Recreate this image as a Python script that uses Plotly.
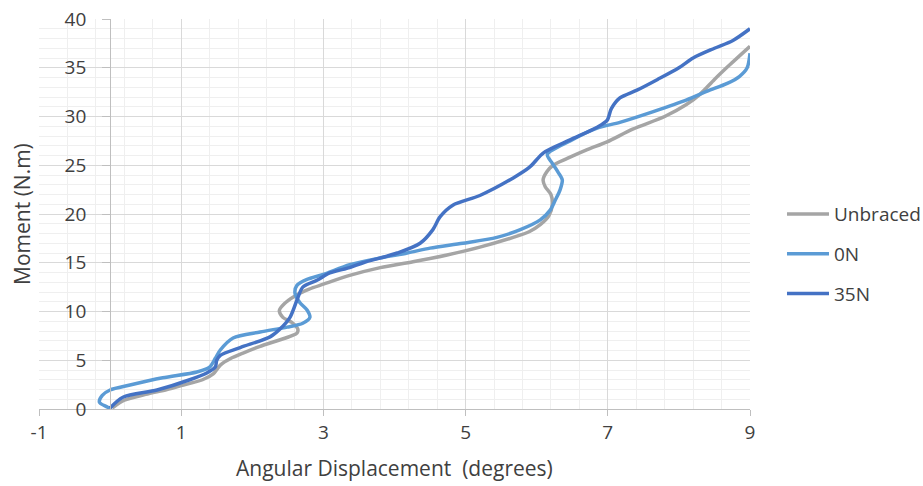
import plotly.graph_objects as go

# Moment vs angular displacement for three bracing conditions
unbraced_x = [0.03, 0.2, 0.5, 0.8, 1.0, 1.3, 1.45, 1.55, 1.7, 1.87, 2.1, 2.35, 2.55, 2.63,
              2.64, 2.55, 2.43, 2.38, 2.45, 2.6, 2.8, 3.0, 3.37, 3.8, 4.26, 4.74, 5.2, 5.67,
              5.9, 6.05, 6.17, 6.22, 6.2, 6.12, 6.09, 6.14, 6.23, 6.43, 6.71, 6.99, 7.35,
              7.8, 8.1, 8.3, 8.5, 8.7, 9.0]
unbraced_y = [0.1, 0.9, 1.5, 2.0, 2.4, 3.0, 3.6, 4.5, 5.2, 5.74, 6.4, 7.0, 7.5, 7.8,
              8.2, 8.9, 9.4, 10.1, 10.8, 11.6, 12.3, 12.8, 13.7, 14.5, 15.1, 15.8, 16.6, 17.6,
              18.2, 18.9, 19.8, 21.0, 22.0, 22.8, 23.5, 24.3, 25.0, 25.7, 26.6, 27.4, 28.7,
              30.0, 31.2, 32.3, 33.8, 35.2, 37.2]

n0_x = [0.0, -0.04, -0.15, -0.11, 0.0, 0.28, 0.74, 1.22, 1.4, 1.48, 1.55, 1.73, 2.11,
        2.49, 2.71, 2.81, 2.77, 2.67, 2.6, 2.63, 2.77, 3.0, 3.37, 3.8, 4.18, 4.5, 4.96,
        5.44, 5.77, 6.05, 6.19, 6.26, 6.33, 6.36, 6.3, 6.22, 6.15, 6.47, 6.85, 7.17,
        7.64, 8.11, 8.4, 8.68, 8.85, 8.96, 9.0]
n0_y = [0.0, 0.2, 0.7, 1.4, 1.95, 2.46, 3.2, 3.8, 4.3, 5.2, 6.05, 7.28, 7.9,
        8.4, 8.8, 9.4, 10.15, 10.9, 11.9, 12.7, 13.3, 13.8, 14.8, 15.5, 16.0, 16.5, 17.0,
        17.6, 18.4, 19.4, 20.4, 21.4, 22.5, 23.5, 24.3, 25.2, 26.1, 27.5, 28.8, 29.4,
        30.5, 31.7, 32.6, 33.4, 34.1, 35.0, 36.5]

n35_x = [0.0, 0.18, 0.66, 1.12, 1.36, 1.48, 1.5, 1.55, 1.83, 2.25, 2.39, 2.53, 2.63,
         2.71, 2.91, 3.09, 3.37, 3.56, 4.04, 4.36, 4.54, 4.64, 4.82, 5.2, 5.67, 5.9,
         6.1, 6.47, 6.85, 6.99, 7.05, 7.17, 7.41, 7.7, 8.0, 8.2, 8.5, 8.76, 9.0]
n35_y = [0.1, 1.2, 1.95, 3.0, 3.7, 4.3, 5.0, 5.5, 6.3, 7.4, 8.2, 9.4, 11.2,
         12.5, 13.2, 13.95, 14.5, 15.0, 16.0, 17.0, 18.4, 19.7, 20.9, 21.9, 23.7, 24.8,
         26.3, 27.6, 28.9, 29.6, 30.8, 31.9, 32.7, 33.8, 35.0, 36.0, 37.0, 37.8, 39.0]

x_ticks = [-1, 1, 3, 5, 7, 9]
x_tick_text = ["-1", "1", "3", "5", "7", "9"]

series = [
    ("Unbraced", unbraced_x, unbraced_y, "#A5A5A5"),
    ("0N", n0_x, n0_y, "#5B9BD5"),
    ("35N", n35_x, n35_y, "#4472C4"),
]

FONT = "Open Sans"
TEXT = "#404040"
TICK_SIZE = 19
TITLE_SIZE = 21

fig = go.Figure()
for name, xs, ys, color in series:
    fig.add_trace(go.Scatter(
        x=xs, y=ys, name=name, mode="lines", legendgroup=name,
        line=dict(color=color, width=3.5, shape="spline", smoothing=0.8),
    ))

fig.update_layout(
    width=923, height=486,
    margin=dict(l=39, r=173, t=19, b=77, autoexpand=False),
    paper_bgcolor="white", plot_bgcolor="white",
    font=dict(family=FONT, size=TICK_SIZE, color=TEXT),
    showlegend=True,
    legend=dict(x=1.045, xanchor="left", y=0.397, yanchor="middle",
                traceorder="grouped", tracegroupgap=12, itemwidth=42,
                font=dict(family=FONT, size=TICK_SIZE, color=TEXT)),
    xaxis=dict(
        range=[-1, 9], tickmode="array", tickvals=x_ticks, ticktext=x_tick_text,
        showgrid=True, gridcolor="#D9D9D9", gridwidth=1,
        minor=dict(tickmode="linear", dtick=0.4, tick0=-1, showgrid=True,
                   gridcolor="#EFEFEF", gridwidth=1),
        zeroline=True, zerolinecolor="#BFBFBF", zerolinewidth=1,
        showline=True, linecolor="#BFBFBF", linewidth=1,
        ticks="outside", ticklen=6, tickcolor="#BFBFBF",
        tickfont=dict(family=FONT, size=TICK_SIZE, color=TEXT),
    ),
    yaxis=dict(
        range=[0, 40], tick0=0, dtick=5, showgrid=True, gridcolor="#D9D9D9", gridwidth=1,
        minor=dict(dtick=1, tick0=0, showgrid=True, gridcolor="#EFEFEF", gridwidth=1),
        zeroline=False, anchor="free", position=0.1,
        showline=True, linecolor="#BFBFBF", linewidth=1,
        ticks="outside", ticklen=8, tickcolor="#BFBFBF", ticklabelstandoff=12,
        tickfont=dict(family=FONT, size=TICK_SIZE, color=TEXT),
    ),
    annotations=[
        dict(text="Angular Displacement  (degrees)", xref="paper", yref="paper",
             x=0.5, y=-0.151, xanchor="center", yanchor="middle", showarrow=False,
             font=dict(family=FONT, size=TITLE_SIZE, color=TEXT)),
        dict(text="Moment (N.m)", xref="paper", yref="paper", textangle=-90,
             x=-0.024, y=0.5, xanchor="center", yanchor="middle", showarrow=False,
             font=dict(family=FONT, size=TITLE_SIZE, color=TEXT)),
    ],
)

fig.write_html("out.html")
